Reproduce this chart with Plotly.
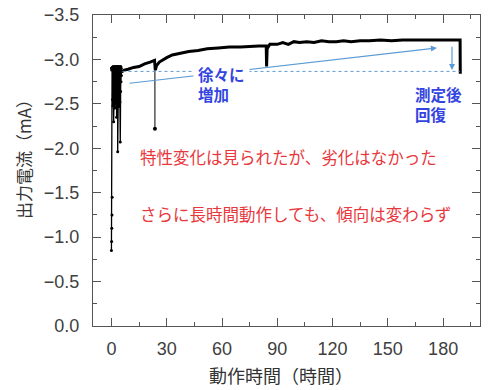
import plotly.graph_objects as go

# ---------------- data ----------------
# early, noisy start-up phase (hours, mA)
t_early = [0.0, 0.05, 0.1, 0.15, 0.2, 0.25, 0.3, 0.35, 0.4, 0.45,
           0.5, 0.6, 0.7, 0.8, 0.9, 1.0, 1.1, 1.2, 1.3, 1.4,
           1.5, 1.6, 1.7, 1.8, 1.9, 2.0, 2.1, 2.2, 2.3, 2.4,
           2.5, 2.6, 2.7, 2.8, 2.9, 3.0, 3.1, 3.2, 3.3, 3.4,
           3.5, 3.6, 3.7, 3.8, 3.9, 4.0, 4.1, 4.2, 4.3, 4.4,
           4.5, 4.6, 4.7, 4.8, 4.9, 5.0, 5.1, 5.2, 5.3, 5.4]
i_early = [-0.85, -2.90, -0.95, -2.88, -1.10, -2.90, -1.25, -2.91, -1.45, -2.90,
           -2.90, -2.55, -2.91, -2.48, -2.92, -2.60, -2.90, -2.30, -2.91, -2.52,
           -2.92, -2.45, -2.90, -2.66, -2.91, -2.50, -2.92, -2.58, -2.90, -2.46,
           -2.91, -2.70, -2.92, -2.35, -2.90, -2.55, -2.91, -2.62, -2.92, -1.96,
           -2.90, -2.50, -2.91, -2.68, -2.92, -2.47, -2.90, -2.58, -2.91, -2.72,
           -2.92, -2.52, -2.90, -2.07, -2.91, -2.64, -2.92, -2.75, -2.90, -2.82]

# main long-term curve
t_main = [5.5, 7, 9, 12, 15, 18, 21, 23.4,
          23.8, 24.5, 26, 28, 30, 33, 37, 42, 47, 52, 58, 64, 70, 76, 80, 84.0,
          84.2, 84.5, 86, 90, 93, 96, 99, 102, 106, 110, 114, 118, 122, 126, 130,
          135, 140, 146, 152, 158, 165, 172, 180, 189.2, 189.3]
i_main = [-2.86, -2.88, -2.89, -2.91, -2.92, -2.95, -2.97, -2.99,
          -2.88, -2.93, -2.97, -3.00, -3.02, -3.05, -3.07, -3.09, -3.10, -3.12, -3.13,
          -3.14, -3.14, -3.15, -3.15, -3.15,
          -2.92, -3.12, -3.17, -3.17, -3.19, -3.17, -3.20, -3.19, -3.20, -3.19, -3.21,
          -3.20, -3.20, -3.21, -3.20, -3.21, -3.21, -3.22, -3.21, -3.22, -3.22, -3.22,
          -3.22, -3.22, -2.84]

# thin downward spike
spike_t = [23.6]
spike_top = [-2.95]
spike_bottom = [-2.22]

x_ticks = [0, 30, 60, 90, 120, 150, 180]
y_ticks = [0.0, -0.5, -1.0, -1.5, -2.0, -2.5, -3.0, -3.5]

# ---------------- figure ----------------
fig = go.Figure()

fig.add_trace(go.Scatter(x=t_early, y=i_early, mode="lines+markers",
                         line=dict(color="black", width=1.3),
                         marker=dict(color="black", size=3),
                         showlegend=False, hoverinfo="skip"))

sx, sy = [], []
for t, a, b in zip(spike_t, spike_top, spike_bottom):
    sx += [t, t, None]
    sy += [a, b, None]
fig.add_trace(go.Scatter(x=sx, y=sy, mode="lines",
                         line=dict(color="black", width=1),
                         showlegend=False, hoverinfo="skip"))
fig.add_trace(go.Scatter(x=spike_t, y=spike_bottom, mode="markers",
                         marker=dict(color="black", size=4),
                         showlegend=False, hoverinfo="skip"))

fig.add_trace(go.Scatter(x=t_main, y=i_main, mode="lines",
                         line=dict(color="black", width=3),
                         showlegend=False, hoverinfo="skip"))

arrow_c = "#5b9bd5"
blue_t = "#3344e0"
red_t = "#e8383d"
jp = "Noto Sans CJK JP"

# dotted reference line
fig.add_shape(type="line", x0=6, x1=189, y0=-2.865, y1=-2.865,
              line=dict(color=arrow_c, width=1, dash="dot"), layer="above")

# diagonal arrow
fig.add_annotation(x=176.6, y=-3.13, ax=9, ay=-2.73, axref="x", ayref="y",
                   xref="x", yref="y", text="", showarrow=True,
                   arrowhead=2, arrowsize=1, arrowwidth=1.2, arrowcolor=arrow_c)
# vertical arrow
fig.add_annotation(x=184.8, y=-2.88, ax=184.8, ay=-3.16, axref="x", ayref="y",
                   xref="x", yref="y", text="", showarrow=True,
                   arrowhead=2, arrowsize=1, arrowwidth=1.2, arrowcolor=arrow_c)

fig.add_annotation(x=44.5, y=-2.72, xref="x", yref="y", xanchor="left", yanchor="middle",
                   text="<b>徐々に</b><br><b>増加</b>", showarrow=False, align="left",
                   bgcolor="white", borderpad=4,
                   font=dict(family=jp, size=15.5, color=blue_t))
fig.add_annotation(x=163.8, y=-2.5, xref="x", yref="y", xanchor="left", yanchor="middle",
                   text="<b>測定後</b><br><b>回復</b>", showarrow=False, align="left",
                   font=dict(family=jp, size=15.5, color=blue_t))

fig.add_annotation(x=14.3, y=-1.897, xref="x", yref="y", xanchor="left", yanchor="middle",
                   text="特性変化は見られたが、劣化はなかった", showarrow=False,
                   font=dict(family=jp, size=16.5, color=red_t))
fig.add_annotation(x=14.3, y=-1.265, xref="x", yref="y", xanchor="left", yanchor="middle",
                   text="さらに長時間動作しても、傾向は変わらず", showarrow=False,
                   font=dict(family=jp, size=16.5, color=red_t))

# axis titles
fig.add_annotation(x=-0.178, y=0.55, xref="paper", yref="paper",
                   xanchor="center", yanchor="middle",
                   text="出力電流（mA）", textangle=-90, showarrow=False,
                   font=dict(family=jp, size=17, color="#333333"))
fig.add_annotation(x=0.486, y=-0.157, xref="paper", yref="paper",
                   xanchor="center", yanchor="middle",
                   text="動作時間（時間）", showarrow=False,
                   font=dict(family=jp, size=18, color="#333333"))

axis_col = "#555555"
fig.update_xaxes(range=[-10, 200], tickvals=x_ticks, ticks="inside", ticklen=8,
                 tickcolor=axis_col, showline=True, linecolor=axis_col, linewidth=1.2,
                 mirror="ticks", showgrid=False, zeroline=False, automargin=False,
                 ticklabelstandoff=6,
                 minor=dict(ticks="inside", ticklen=4, dtick=15, tick0=0, tickcolor=axis_col),
                 tickfont=dict(family="Liberation Sans, Arial", size=18, color="#404040"))
fig.update_yaxes(range=[0, -3.5], tickvals=y_ticks, tickformat=".1f", ticks="inside",
                 ticklen=8, tickcolor=axis_col, showline=True, linecolor=axis_col,
                 linewidth=1.2, mirror="ticks", showgrid=False, zeroline=False,
                 automargin=False, ticklabelstandoff=9,
                 minor=dict(ticks="inside", ticklen=4, dtick=0.25, tick0=0, tickcolor=axis_col),
                 tickfont=dict(family="Liberation Sans, Arial", size=18, color="#404040"))

fig.update_layout(width=500, height=390, margin=dict(l=93, r=20, t=15, b=64),
                  plot_bgcolor="white", paper_bgcolor="white")

fig.write_html("out.html", config={"displayModeBar": False},
               post_script="document.body.style.margin='0';document.body.style.overflow='hidden';")
